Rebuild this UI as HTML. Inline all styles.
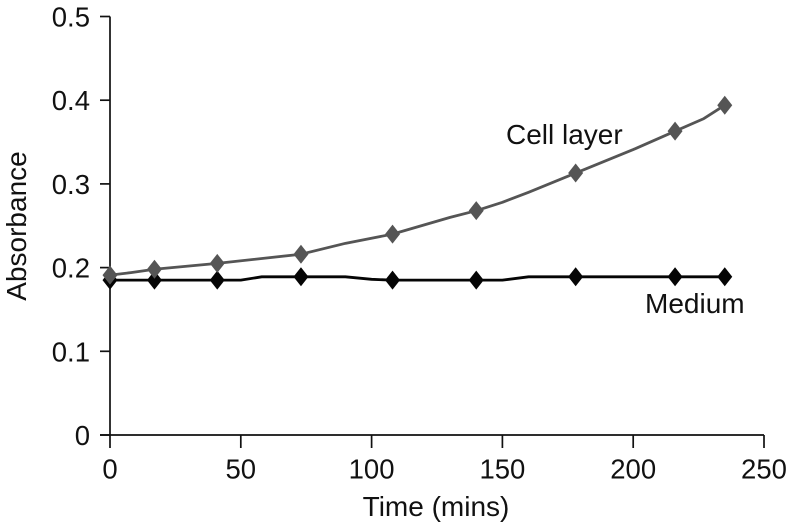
<!DOCTYPE html>
<html>
<head>
<meta charset="utf-8">
<style>
html,body{margin:0;padding:0;background:#fff;width:787px;height:524px;overflow:hidden}
svg{display:block}
text{font-family:"Liberation Sans",sans-serif;fill:#111;font-size:28px}
.tick-text{font-size:27.5px}
</style>
</head>
<body>
<svg id="chart" width="787" height="524" viewBox="0 0 787 524" xmlns="http://www.w3.org/2000/svg">
<g id="axes"></g>
<g id="series"></g>
<text transform="translate(26,226) rotate(-90)" text-anchor="middle">Absorbance</text>
<text x="436" y="516" text-anchor="middle">Time (mins)</text>
<text x="506" y="144">Cell layer</text>
<text x="645" y="313">Medium</text>
</svg>
<script>
const xTicks = [0, 50, 100, 150, 200, 250];
const yTicks = [0, 0.1, 0.2, 0.3, 0.4, 0.5];
const yTickLabels = ['0', '0.1', '0.2', '0.3', '0.4', '0.5'];
const markerTimes = [0, 17, 41, 73, 108, 140, 178, 216, 235];
const cellLayerValues = [0.191, 0.198, 0.205, 0.216, 0.24, 0.268, 0.313, 0.363, 0.394];
const mediumValues = [0.185, 0.185, 0.185, 0.189, 0.185, 0.185, 0.189, 0.189, 0.189];
const cellLayerLineTimes = [0, 8, 17, 41, 73, 90, 108, 130, 140, 150, 160, 178, 200, 216, 227, 235];
const cellLayerLineValues = [0.191, 0.194, 0.198, 0.205, 0.216, 0.229, 0.24, 0.26, 0.268, 0.278, 0.29, 0.313, 0.341, 0.363, 0.378, 0.394];
const mediumLineTimes = [0, 17, 41, 50, 58, 73, 90, 100, 108, 140, 150, 160, 178, 216, 235];
const mediumLineValues = [0.185, 0.185, 0.185, 0.185, 0.189, 0.189, 0.189, 0.186, 0.185, 0.185, 0.185, 0.189, 0.189, 0.189, 0.189];

const NS = 'http://www.w3.org/2000/svg';
const sx = function (v) { return 110 + v * 2.616; };
const sy = function (v) { return 435 - v * 837; };
const axes = document.getElementById('axes');
const series = document.getElementById('series');

function make(tag, attrs, parent) {
  const el = document.createElementNS(NS, tag);
  Object.keys(attrs).forEach(function (k) { el.setAttribute(k, attrs[k]); });
  parent.appendChild(el);
  return el;
}

const xAxis = make('line', { x1: sx(0) - 10, x2: sx(250), y1: sy(0), y2: sy(0), stroke: '#111', 'stroke-width': 1.7 }, axes);


const yAxis = make('line', { x1: sx(0), x2: sx(0), y1: sy(0.5), y2: sy(0), stroke: '#111', 'stroke-width': 1.7 }, axes);



xTicks.forEach(function (t) {
  const tick = make('line', { x1: sx(t), x2: sx(t), y1: sy(0), y2: sy(0) + 13, stroke: '#111', 'stroke-width': 1.7 }, axes);
  
  
  const label = make('text', { x: sx(t), y: 478.5, 'text-anchor': 'middle', class: 'tick-text' }, axes);
  
  
  label.textContent = t;
});

yTicks.forEach(function (t, i) {
  const tick = make('line', { x1: sx(0) - 10, x2: sx(0), y1: sy(t), y2: sy(t), stroke: '#111', 'stroke-width': 1.7 }, axes);
  
  
  const label = make('text', { x: 90, y: sy(t) + 10, 'text-anchor': 'end', class: 'tick-text' }, axes);
  
  
  label.textContent = yTickLabels[i];
});

function drawSeries(lineTimes, lineValues, times, values, color, width) {
  const pts = lineTimes.map(function (t, i) { return sx(t) + ',' + sy(lineValues[i]); }).join(' ');
  const line = make('polyline', { points: pts, fill: 'none', stroke: color, 'stroke-width': width, 'stroke-linejoin': 'round' }, series);
  
  
  times.forEach(function (t, i) {
    const x = sx(t), y = sy(values[i]);
    const d = make('polygon', { points: (x - 7.5) + ',' + y + ' ' + x + ',' + (y - 9.5) + ' ' + (x + 7.5) + ',' + y + ' ' + x + ',' + (y + 9.5), fill: color }, series);
    
    
  });
}

drawSeries(mediumLineTimes, mediumLineValues, markerTimes, mediumValues, '#050505', 2.8);
drawSeries(cellLayerLineTimes, cellLayerLineValues, markerTimes, cellLayerValues, '#555555', 2.8);
</script>
</body>
</html>
